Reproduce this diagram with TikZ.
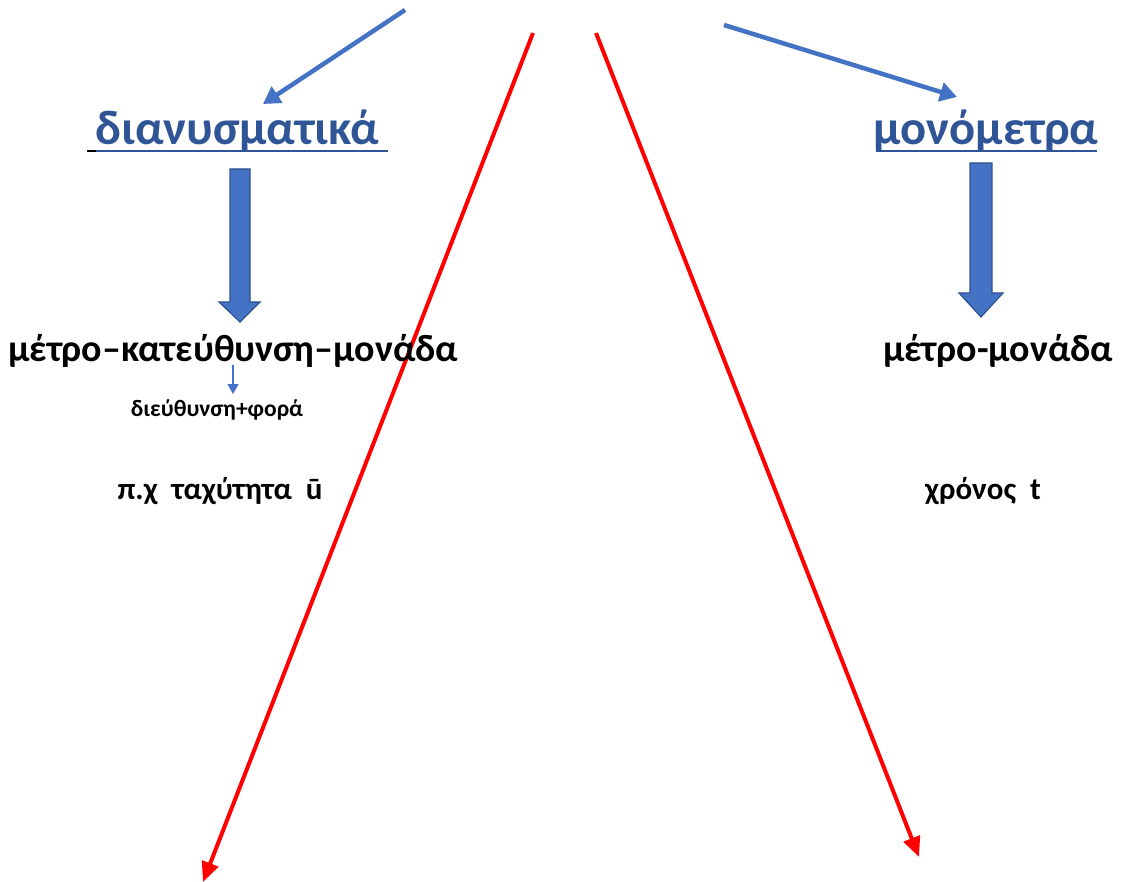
\documentclass[tikz,border=0pt]{standalone}
\usepackage{fontspec}
\setmainfont{Carlito}
\usetikzlibrary{arrows.meta,shapes.arrows}
\definecolor{titleblue}{HTML}{2F5597}
\definecolor{arrowblue}{HTML}{4472C4}
\definecolor{edgeblue}{HTML}{2F528F}
\begin{document}
\begin{tikzpicture}[x=1pt,y=-1pt,
  title/.style={font=\fontsize{48.5}{56}\selectfont\bfseries, text=titleblue, inner sep=0pt, anchor=base},
  label/.style={font=\fontsize{38}{44}\selectfont\bfseries, inner sep=0pt, anchor=base},
  small/.style={font=\fontsize{23.5}{28}\selectfont\bfseries, inner sep=0pt, anchor=base},
  example/.style={font=\fontsize{31}{36}\selectfont\bfseries, inner sep=0pt, anchor=base},
  pointer/.style={arrowblue, line width=4.5pt, -{Triangle[length=17pt,width=19pt]}},
  redline/.style={red, line width=4pt, -{Triangle[length=20pt,width=17pt]}},
  blockarrow/.style={fill=arrowblue, draw=edgeblue, line width=1.2pt, line join=miter}]
\useasboundingbox (0,0) rectangle (1121,882);

% upper pointers
\coordinate (pl0) at (405,10);
\coordinate (pl1) at (263,104);
\coordinate (pr0) at (724,25);
\coordinate (pr1) at (957,97);
\draw[pointer] (pl0) -- (pl1);
\draw[pointer] (pr0) -- (pr1);

% diverging red lines
\coordinate (ra0) at (533,33);
\coordinate (ra1) at (203,882);
\coordinate (rb0) at (596,33);
\coordinate (rb1) at (919,857);
\draw[redline] (ra0) -- (ra1);
\draw[redline] (rb0) -- (rb1);

% headings
\node[title] (vec) at (237,145) {διανυσματικά};
\node[title] (sca) at (986,145) {μονόμετρα};
\draw[titleblue, line width=2.5pt] (96,151) -- (388,151);
\draw[black, line width=2.5pt] (87,151) -- (96,151);
\draw[titleblue, line width=2.5pt] (876,151) -- (1097,151);

% block arrows
\draw[blockarrow] (230,169) -- (250,169) -- (250,302) -- (260,302) -- (240,322)
  -- (219,302) -- (230,302) -- cycle;
\draw[blockarrow] (970,163) -- (992,163) -- (992,293) -- (1003,293) -- (981,317)
  -- (959,293) -- (970,293) -- cycle;

% properties
\node[label] (mv) at (233,361) {μέτρο–κατεύθυνση–μονάδα};
\node[label] (ms) at (998,361) {μέτρο-μονάδα};
\coordinate (sa0) at (233,365);
\coordinate (sa1) at (233,394);
\draw[arrowblue, line width=1.3pt, -{Triangle[length=10pt,width=11pt]}] (sa0) -- (sa1);
\node[small] (df) at (217,416) {διεύθυνση+φορά};

% examples
\node[example] (ev) at (220,499) {π.χ~ ταχύτητα~ ū};
\node[example] (es) at (983,499) {χρόνος~ t};
\end{tikzpicture}
\end{document}
